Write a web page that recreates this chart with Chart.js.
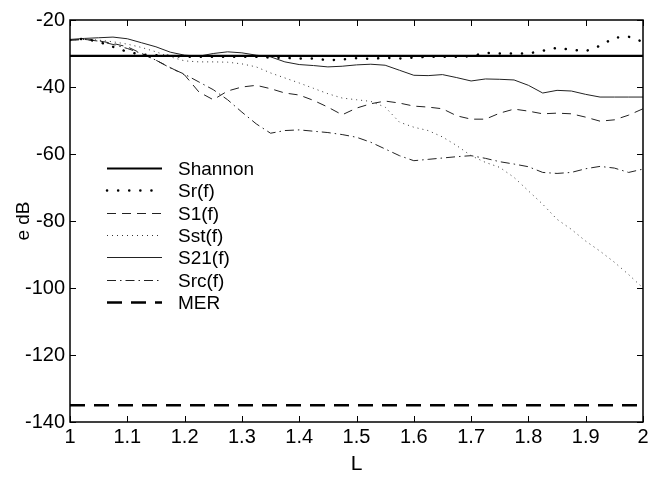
<!DOCTYPE html>
<html>
<head>
<meta charset="utf-8">
<script src="https://cdn.jsdelivr.net/npm/chart.js@4/dist/chart.umd.min.js"></script>
<style>
  html, body { margin: 0; padding: 0; background: #fff; }
  #wrap { width: 649px; height: 479px; }
</style>
</head>
<body>
<div id="wrap"><canvas id="errChart"></canvas></div>
<script>
// sample points along L
var L = [1.000, 1.025, 1.050, 1.075, 1.100, 1.125, 1.150, 1.175, 1.200, 1.225,
         1.250, 1.275, 1.300, 1.325, 1.350, 1.375, 1.400, 1.425, 1.450, 1.475,
         1.500, 1.525, 1.550, 1.575, 1.600, 1.625, 1.650, 1.675, 1.700, 1.725,
         1.750, 1.775, 1.800, 1.825, 1.850, 1.875, 1.900, 1.925, 1.950, 1.975, 2.000];

var shannon = -30.7;
var mer = -135;

var sr  = [-26, -25.6, -26.5, -28, -29.5, -30.3, -30.5, -30.7, -31, -31,
           -31, -31, -31, -31, -31.2, -31.3, -31.5, -31.5, -32, -31.8,
           -31.4, -31.6, -31.3, -31.5, -31.2, -31, -31, -31, -30.8, -29.8,
           -30, -30, -30, -29.2, -28.3, -28.9, -29.3, -27.7, -25.3, -25, -26.5];
var s1  = [-26, -25.8, -26.2, -27, -28, -30, -32, -34.2, -36.4, -41.5,
           -43.8, -41.2, -40, -39.5, -40.5, -41.8, -42.4, -44, -46, -48.3,
           -46.3, -45, -44.2, -44.8, -45.7, -46, -46.5, -48.6, -49.6, -49.6,
           -47.8, -46.6, -47.2, -48, -47.8, -48, -49, -50.2, -49.8, -48.4, -46.5];
var sst = [-26, -25.7, -26, -26.5, -27.2, -28.2, -29.5, -31, -32.2, -32.5,
           -32.5, -32.6, -33.1, -34, -35.8, -37.3, -38.8, -40.4, -42, -43.3,
           -43.8, -44.3, -46, -50.5, -52, -53, -54.9, -57.5, -60.5, -62.5,
           -64, -67, -71, -75, -79.5, -82.5, -86, -89, -92.3, -96, -100];
var s21 = [-25.8, -25.5, -25.3, -25.1, -25.6, -26.8, -28, -29.6, -30.5, -30.8,
           -30, -29.5, -29.8, -30.5, -31, -32.5, -33.3, -33.6, -34, -33.8,
           -33.4, -33.2, -33.5, -35, -36.5, -36.6, -36.3, -37.2, -38.2, -37.6,
           -37.7, -37.9, -39.5, -41.8, -41, -41.2, -42.2, -43, -43, -43, -43];
var src = [-26, -25.8, -26.3, -27.3, -28.5, -30, -32, -34.3, -36.2, -38.5,
           -40.8, -43.8, -47.5, -51, -53.8, -53, -52.8, -53.2, -53.6, -54.2,
           -55, -56.5, -58.5, -60.5, -62, -61.6, -61.2, -60.8, -60.5, -61.3,
           -62.3, -63, -63.8, -65.5, -65.8, -65.5, -64.4, -63.7, -64.2, -65.5, -64.5];

var xTicks = [1, 1.1, 1.2, 1.3, 1.4, 1.5, 1.6, 1.7, 1.8, 1.9, 2];
var yTicks = [-140, -120, -100, -80, -60, -40, -20];

function pts(vals) {
  return L.map(function (x, i) { return { x: x, y: vals[i] }; });
}
function flat(v) {
  return [{ x: 1, y: v }, { x: 2, y: v }];
}

var tickFont = { family: '"Liberation Sans", Arial, sans-serif', size: 20 };

// MATLAB style inward ticks on all four sides
var innerTicks = {
  id: 'innerTicks',
  afterDraw: function (chart) {
    var c = chart.ctx, a = chart.chartArea;
    var xs = chart.scales.x, ys = chart.scales.y;
    c.save();
    c.strokeStyle = '#000';
    c.lineWidth = 1;
    c.beginPath();
    xTicks.forEach(function (t) {
      var px = Math.round(xs.getPixelForValue(t)) + 0.5;
      c.moveTo(px, a.bottom); c.lineTo(px, a.bottom - 6);
      c.moveTo(px, a.top); c.lineTo(px, a.top + 6);
    });
    yTicks.forEach(function (t) {
      var py = Math.round(ys.getPixelForValue(t)) + 0.5;
      c.moveTo(a.left, py); c.lineTo(a.left + 6, py);
      c.moveTo(a.right, py); c.lineTo(a.right - 6, py);
    });
    c.stroke();
    c.lineWidth = 1.5;
    c.strokeRect(a.left, a.top, a.right - a.left, a.bottom - a.top);
    c.restore();
  }
};

// legend drawn inside the plot area
var innerLegend = {
  id: 'innerLegend',
  afterDraw: function (chart) {
    var c = chart.ctx;
    var x0 = 107, x1 = 162, tx = 178, y0 = 168, step = 22.3;
    c.save();
    c.font = '19px "Liberation Sans", Arial, sans-serif';
    c.textBaseline = 'middle';
    c.fillStyle = '#000';
    chart.data.datasets.forEach(function (ds, i) {
      var y = Math.round(y0 + i * step) + 0.5;
      c.strokeStyle = ds.borderColor;
      c.lineWidth = ds.borderWidth;
      c.lineCap = ds.borderCapStyle || 'butt';
      c.setLineDash(ds.borderDash || []);
      c.beginPath();
      c.moveTo(x0, y); c.lineTo(x1, y);
      c.stroke();
      c.fillText(ds.label, tx, y + 1);
    });
    c.restore();
  }
};

var ctx = document.getElementById('errChart').getContext('2d');
var errChart = new Chart(ctx, {
  type: 'line',
  data: {
    datasets: [
      { label: 'Shannon', data: flat(shannon), borderColor: '#000', borderWidth: 2.2 },
      { label: 'Sr(f)', data: pts(sr), borderColor: '#000', borderWidth: 2.5, borderDash: [0.1, 11], borderCapStyle: 'round' },
      { label: 'S1(f)', data: pts(s1), borderColor: '#222', borderWidth: 1, borderDash: [9, 6] },
      { label: 'Sst(f)', data: pts(sst), borderColor: '#333', borderWidth: 1, borderDash: [1, 4] },
      { label: 'S21(f)', data: pts(s21), borderColor: '#222', borderWidth: 1 },
      { label: 'Src(f)', data: pts(src), borderColor: '#222', borderWidth: 1, borderDash: [9, 4, 1.5, 4] },
      { label: 'MER', data: flat(mer), borderColor: '#000', borderWidth: 2.5, borderDash: [15, 9] }
    ]
  },
  options: {
    responsive: true,
    maintainAspectRatio: false,
    animation: false,
    layout: { padding: { top: 20, right: 6, left: 12, bottom: 0 } },
    elements: { point: { radius: 0 }, line: { tension: 0 } },
    plugins: { legend: { display: false }, tooltip: { enabled: false } },
    scales: {
      x: {
        type: 'linear', min: 1, max: 2,
        grid: { display: false, drawTicks: false },
        border: { display: false },
        afterBuildTicks: function (s) { s.ticks = xTicks.map(function (v) { return { value: v }; }); },
        afterFit: function (s) { s.height = 57; s.paddingLeft = 0; s.paddingRight = 0; },
        ticks: {
          color: '#000', font: tickFont, padding: 3, maxRotation: 0, autoSkip: false,
          callback: function (v) { return String(Math.round(v * 10) / 10); }
        },
        title: { display: true, text: 'L', color: '#000', font: { family: '"Liberation Sans", Arial, sans-serif', size: 21 }, padding: { top: 0, bottom: 2 } }
      },
      y: {
        min: -140, max: -20,
        grid: { display: false, drawTicks: false },
        border: { display: false },
        afterBuildTicks: function (s) { s.ticks = yTicks.map(function (v) { return { value: v }; }); },
        afterFit: function (s) { s.width = 58; s.paddingTop = 0; s.paddingBottom = 0; },
        ticks: { color: '#000', font: tickFont, padding: 5, autoSkip: false },
        title: { display: true, text: 'e dB', color: '#000', font: { family: '"Liberation Sans", Arial, sans-serif', size: 19 }, padding: { top: 0, bottom: 0 } }
      }
    }
  },
  plugins: [innerTicks, innerLegend]
});
</script>
</body>
</html>
